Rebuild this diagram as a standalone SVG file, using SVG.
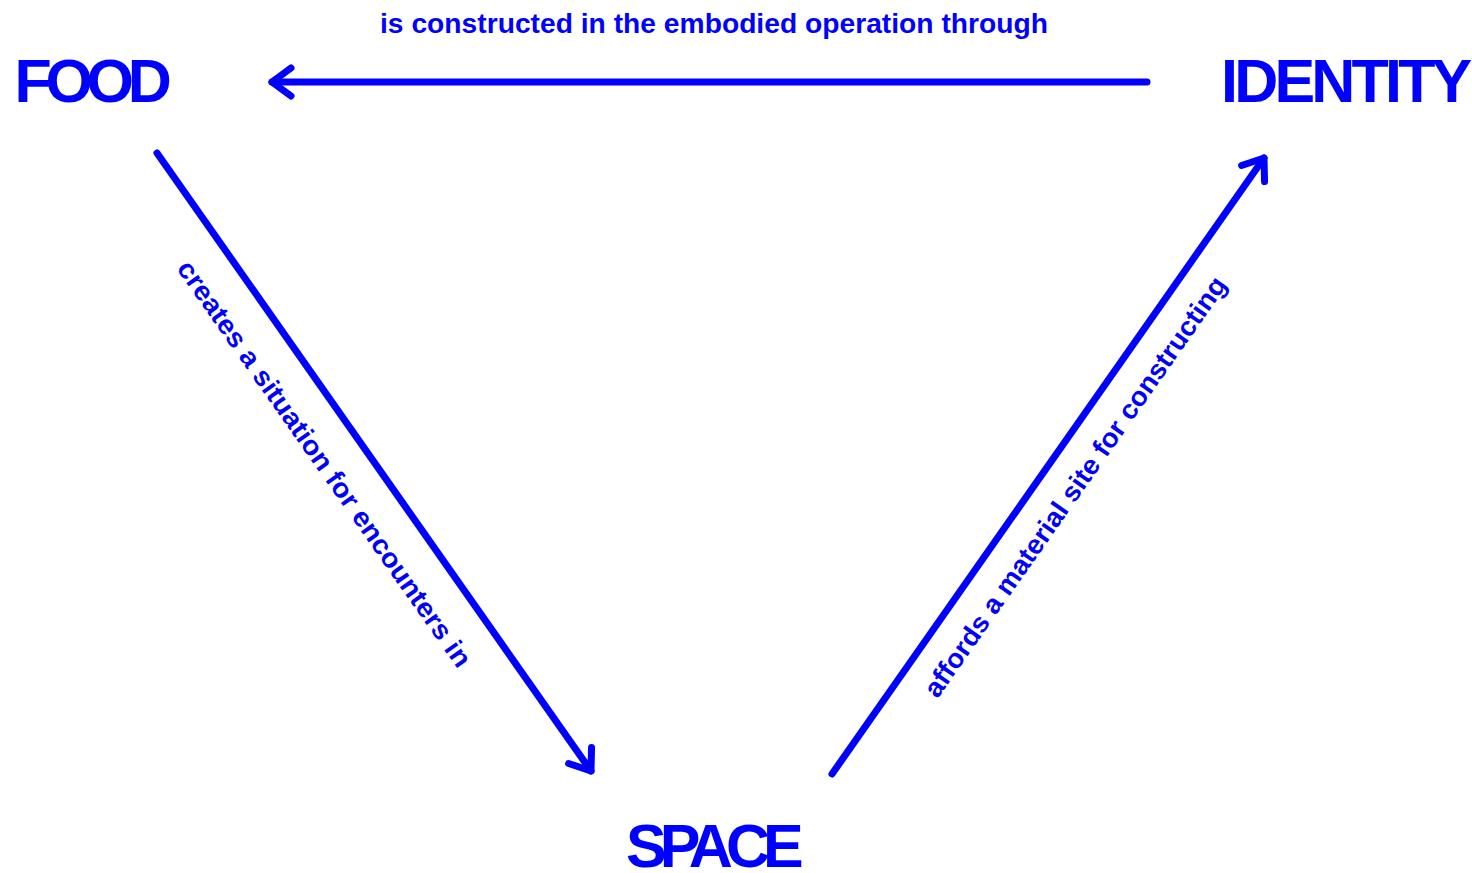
<svg xmlns="http://www.w3.org/2000/svg" width="1472" height="873" viewBox="0 0 1472 873">
<style>
.node { font-family: "Liberation Sans", Arial, sans-serif; font-weight: bold; font-size: 61px; fill: #0000ff; }
.lbl { font-family: "Liberation Sans", Arial, sans-serif; font-weight: bold; font-size: 27px; fill: #0000ff; }
.edge { stroke: #0000ff; stroke-width: 7; stroke-linecap: round; fill: none; }
</style>
<defs>
<marker id="chev" markerUnits="userSpaceOnUse" markerWidth="60" markerHeight="60" refX="30" refY="30" orient="auto" overflow="visible">
<path d="M 11 16 L 30 30 L 11 44" fill="none" stroke="#0000ff" stroke-width="7" stroke-linecap="round" stroke-linejoin="round"/>
</marker>
</defs>
<rect width="1472" height="873" fill="#ffffff"/>
<g id="connectors">
<line class="edge" x1="1147" y1="82" x2="272" y2="82" marker-end="url(#chev)"/>
<line class="edge" x1="157" y1="153" x2="591" y2="771" marker-end="url(#chev)"/>
<line class="edge" x1="832" y1="774" x2="1264" y2="158" marker-end="url(#chev)"/>
<text class="lbl" x="714" y="33" text-anchor="middle" textLength="668" lengthAdjust="spacingAndGlyphs">is constructed in the embodied operation through</text>
<text class="lbl" transform="translate(317 469) rotate(54.9)" x="0" y="0" text-anchor="middle" textLength="490" lengthAdjust="spacingAndGlyphs">creates a situation for encounters in</text>
<text class="lbl" transform="translate(1082.5 492) rotate(-55)" x="0" y="0" text-anchor="middle" textLength="506" lengthAdjust="spacingAndGlyphs">affords a material site for constructing</text>
</g>
<g id="node-food"><text class="node" x="14.5" y="102" letter-spacing="-6.3">FOOD</text></g>
<g id="node-identity"><text class="node" x="1221" y="102" letter-spacing="-3.8">IDENTITY</text></g>
<g id="node-space"><text class="node" x="626" y="867" letter-spacing="-7">SPACE</text></g>
</svg>
